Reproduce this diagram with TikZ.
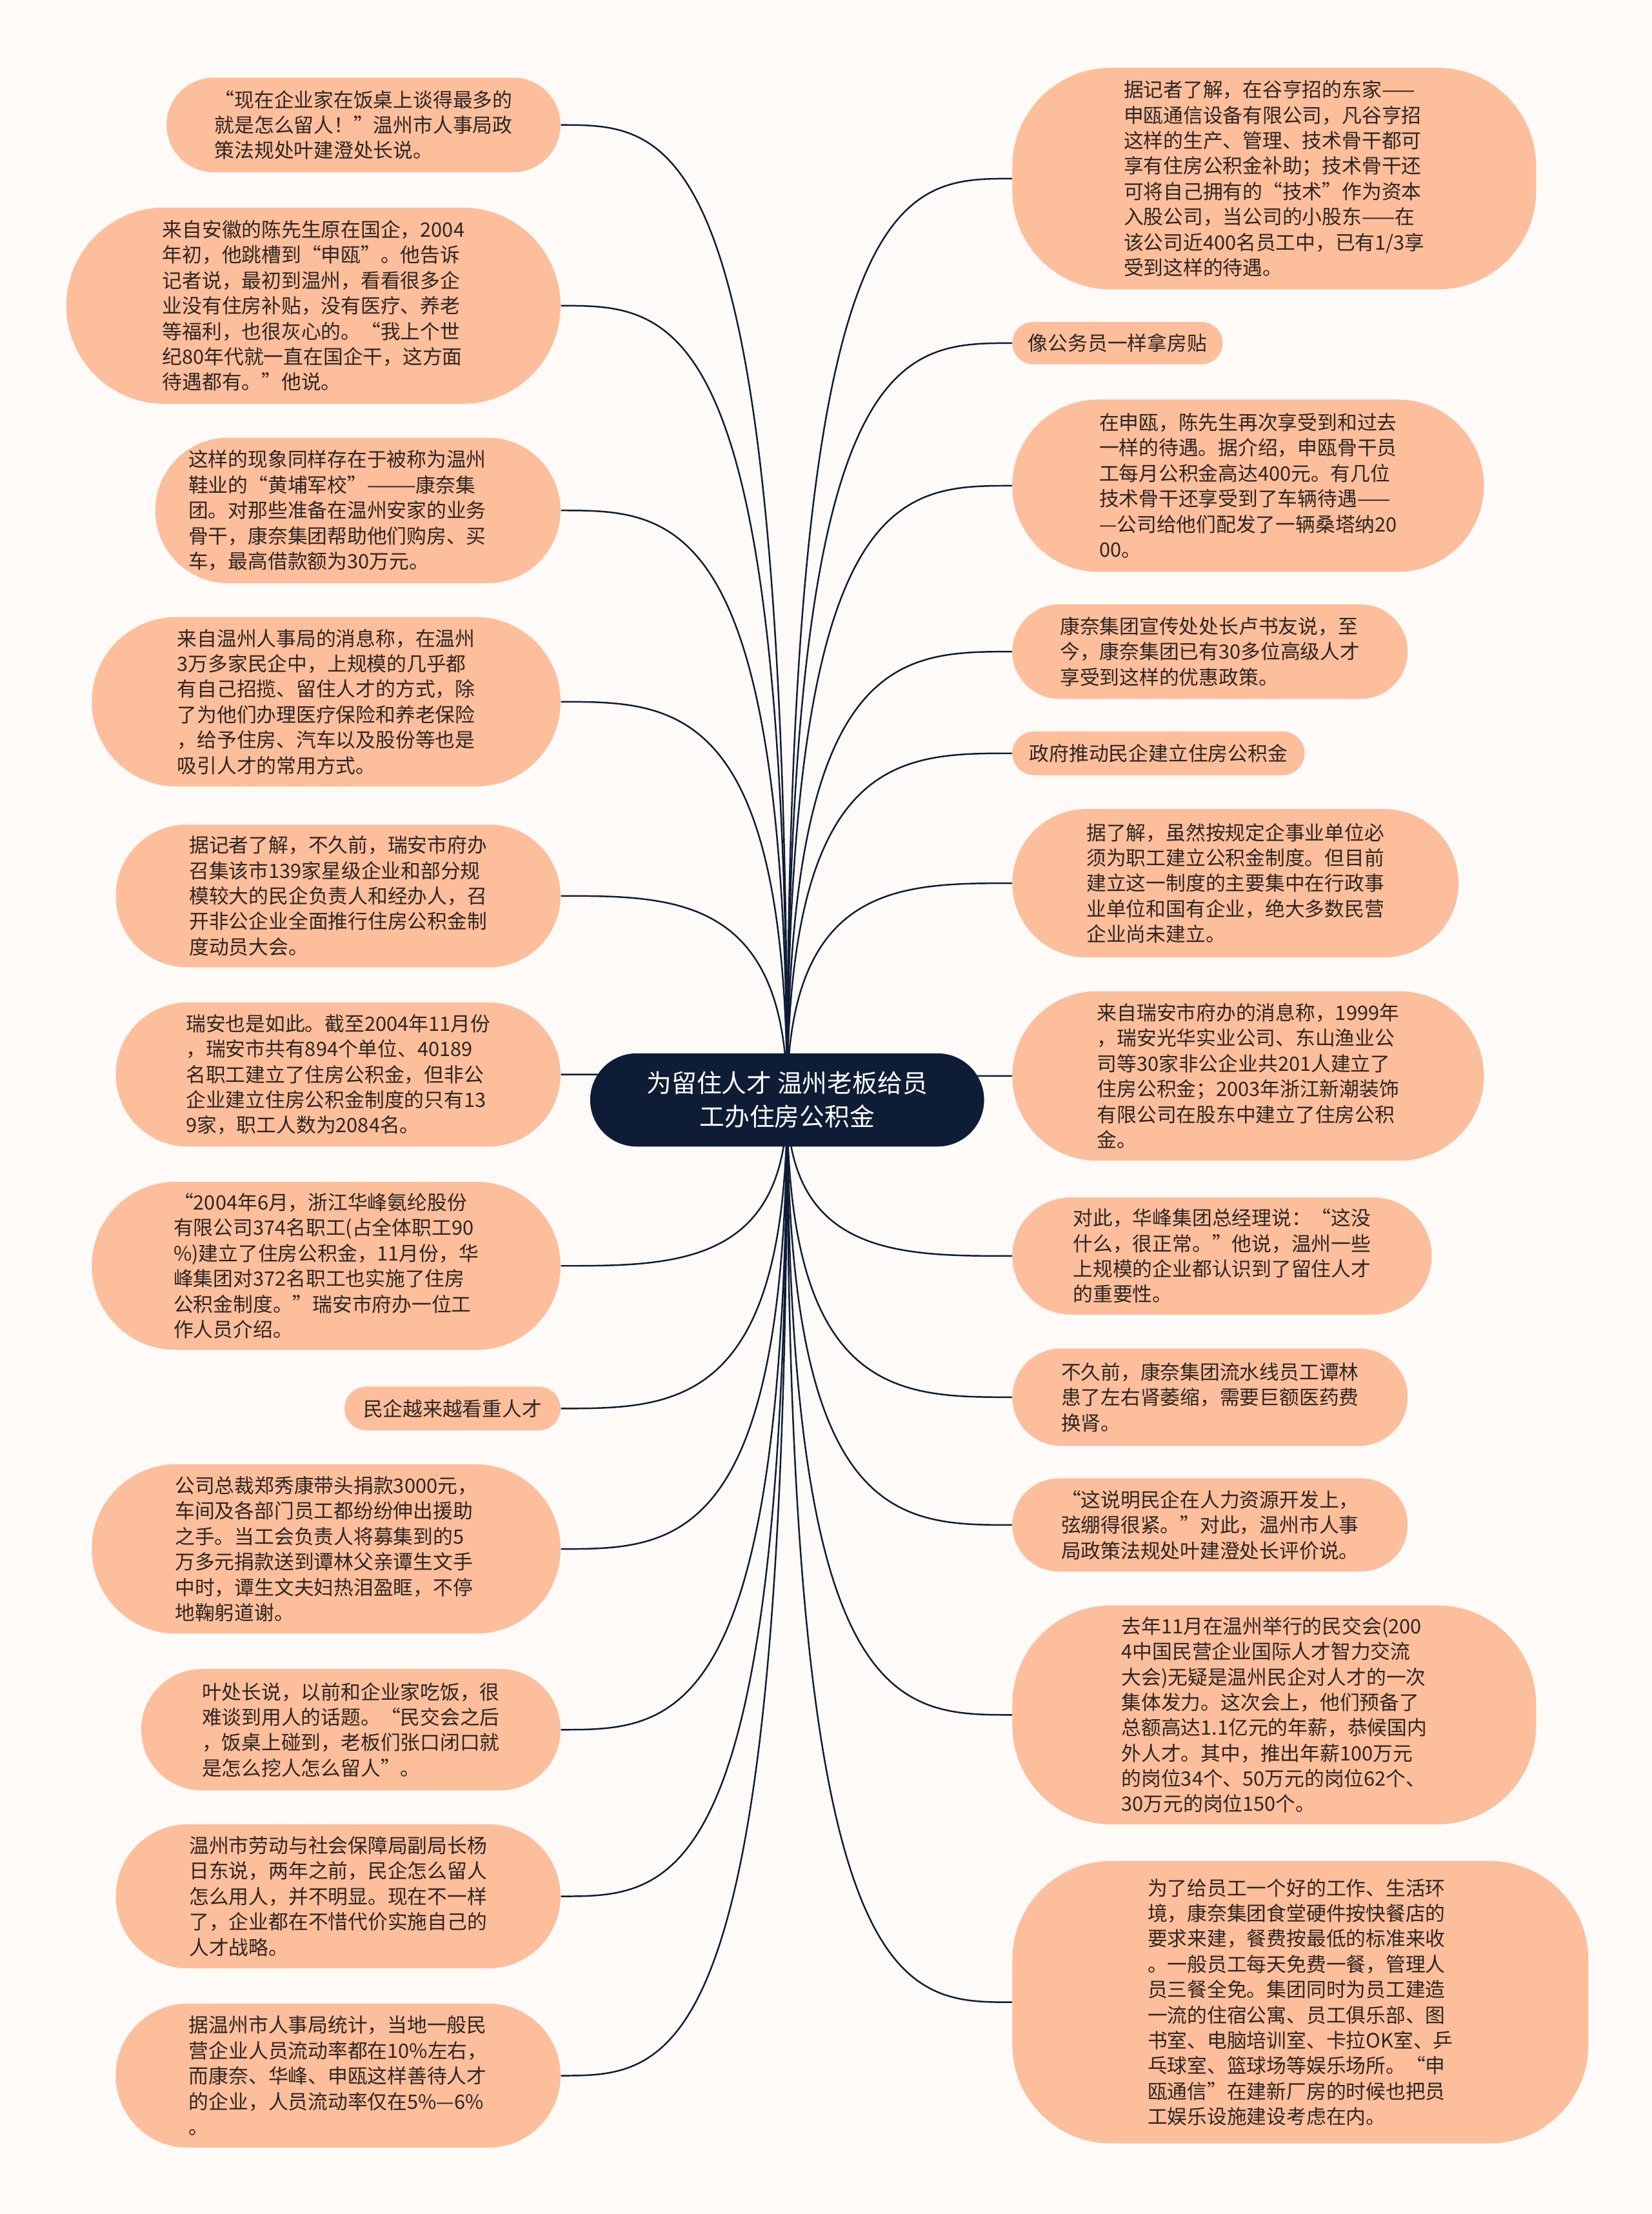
\documentclass[tikz,border=0pt]{standalone}
\usepackage{fontspec}
\setmainfont{Noto Sans CJK SC}
\usetikzlibrary{calc,backgrounds}
\definecolor{paper}{HTML}{FDFAF8}
\definecolor{peach}{HTML}{FDBE9C}
\definecolor{navy}{HTML}{0E1C36}
\definecolor{ink}{HTML}{2E2622}
\newcommand{\unitpx}{0.25mm}
\tikzset{
  boxsize/.style 2 args={minimum width=#1*\unitpx,minimum height=#2*\unitpx,rounded corners={min(#2/2,70)*\unitpx}},
  leaf/.style={fill=peach,text=ink,align=left,inner sep=0pt,font=\fontsize{10pt}{12.8pt}\selectfont},
  root/.style={fill=navy,text=white,align=center,inner sep=0pt,font=\fontsize{12.6pt}{17pt}\selectfont,boxsize={279}{66}},
  link/.style={draw=navy,line width=0.8pt},
}

\begin{document}
\begin{tikzpicture}[x=0.25mm,y=-0.25mm]
\useasboundingbox (0,0) rectangle (1170,1568);
% centre
\node[root] (hub) at (557.5,779) {为留住人才 温州老板给员\\工办住房公积金};
% left branch
\node[leaf,boxsize={279}{67}] (l1) at (257.5,88.5) {“现在企业家在饭桌上谈得最多的\\
就是怎么留人！”温州市人事局政\\
策法规处叶建澄处长说。};
\node[leaf,boxsize={350}{139}] (l2) at (222,216.5) {来自安徽的陈先生原在国企，2004\\
年初，他跳槽到“申瓯”。他告诉\\
记者说，最初到温州，看看很多企\\
业没有住房补贴，没有医疗、养老\\
等福利，也很灰心的。“我上个世\\
纪80年代就一直在国企干，这方面\\
待遇都有。”他说。};
\node[leaf,boxsize={287}{103},text width=240*\unitpx] (l3) at (253.5,361.5) {这样的现象同样存在于被称为温州\\
鞋业的“黄埔军校”———康奈集\\
团。对那些准备在温州安家的业务\\
骨干，康奈集团帮助他们购房、买\\
车，最高借款额为30万元。};
\node[leaf,boxsize={332}{120}] (l4) at (231,497) {来自温州人事局的消息称，在温州\\
3万多家民企中，上规模的几乎都\\
有自己招揽、留住人才的方式，除\\
了为他们办理医疗保险和养老保险\\
，给予住房、汽车以及股份等也是\\
吸引人才的常用方式。};
\node[leaf,boxsize={315}{101}] (l5) at (239.5,634.5) {据记者了解，不久前，瑞安市府办\\
召集该市139家星级企业和部分规\\
模较大的民企负责人和经办人，召\\
开非公企业全面推行住房公积金制\\
度动员大会。};
\node[leaf,boxsize={315}{102}] (l6) at (239.5,761) {瑞安也是如此。截至2004年11月份\\
，瑞安市共有894个单位、40189\\
名职工建立了住房公积金，但非公\\
企业建立住房公积金制度的只有13\\
9家，职工人数为2084名。};
\node[leaf,boxsize={332}{119}] (l7) at (231,896.5) {“2004年6月，浙江华峰氨纶股份\\
有限公司374名职工(占全体职工90\\
\%)建立了住房公积金，11月份，华\\
峰集团对372名职工也实施了住房\\
公积金制度。”瑞安市府办一位工\\
作人员介绍。};
\node[leaf,boxsize={153}{31}] (l8) at (320.5,997.5) {民企越来越看重人才};
\node[leaf,boxsize={332}{120}] (l9) at (231,1097) {公司总裁郑秀康带头捐款3000元，\\
车间及各部门员工都纷纷伸出援助\\
之手。当工会负责人将募集到的5\\
万多元捐款送到谭林父亲谭生文手\\
中时，谭生文夫妇热泪盈眶，不停\\
地鞠躬道谢。};
\node[leaf,boxsize={297}{86}] (l10) at (248.5,1225) {叶处长说，以前和企业家吃饭，很\\
难谈到用人的话题。“民交会之后\\
，饭桌上碰到，老板们张口闭口就\\
是怎么挖人怎么留人”。};
\node[leaf,boxsize={315}{102}] (l11) at (239.5,1343) {温州市劳动与社会保障局副局长杨\\
日东说，两年之前，民企怎么留人\\
怎么用人，并不明显。现在不一样\\
了，企业都在不惜代价实施自己的\\
人才战略。};
\node[leaf,boxsize={315}{102}] (l12) at (239.5,1470) {据温州市人事局统计，当地一般民\\
营企业人员流动率都在10\%左右，\\
而康奈、华峰、申瓯这样善待人才\\
的企业，人员流动率仅在5\%—6\%\\
。};
% right branch
\node[leaf,boxsize={371}{157}] (r1) at (902.5,126.5) {据记者了解，在谷亨招的东家——\\
申瓯通信设备有限公司，凡谷亨招\\
这样的生产、管理、技术骨干都可\\
享有住房公积金补助；技术骨干还\\
可将自己拥有的“技术”作为资本\\
入股公司，当公司的小股东——在\\
该公司近400名员工中，已有1/3享\\
受到这样的待遇。};
\node[leaf,boxsize={149}{30}] (r2) at (791.5,243) {像公务员一样拿房贴};
\node[leaf,boxsize={334}{122}] (r3) at (884,344) {在申瓯，陈先生再次享受到和过去\\
一样的待遇。据介绍，申瓯骨干员\\
工每月公积金高达400元。有几位\\
技术骨干还享受到了车辆待遇——\\
—公司给他们配发了一辆桑塔纳20\\
00。};
\node[leaf,boxsize={280}{67}] (r4) at (857,461.5) {康奈集团宣传处处长卢书友说，至\\
今，康奈集团已有30多位高级人才\\
享受到这样的优惠政策。};
\node[leaf,boxsize={207}{31}] (r5) at (820.5,533.5) {政府推动民企建立住房公积金};
\node[leaf,boxsize={316}{105}] (r6) at (875,625.5) {据了解，虽然按规定企事业单位必\\
须为职工建立公积金制度。但目前\\
建立这一制度的主要集中在行政事\\
业单位和国有企业，绝大多数民营\\
企业尚未建立。};
\node[leaf,boxsize={334}{120}] (r7) at (884,762) {来自瑞安市府办的消息称，1999年\\
，瑞安光华实业公司、东山渔业公\\
司等30家非公企业共201人建立了\\
住房公积金；2003年浙江新潮装饰\\
有限公司在股东中建立了住房公积\\
金。};
\node[leaf,boxsize={297}{83}] (r8) at (865.5,889.5) {对此，华峰集团总经理说：“这没\\
什么，很正常。”他说，温州一些\\
上规模的企业都认识到了留住人才\\
的重要性。};
\node[leaf,boxsize={280}{69}] (r9) at (857,989.5) {不久前，康奈集团流水线员工谭林\\
患了左右肾萎缩，需要巨额医药费\\
换肾。};
\node[leaf,boxsize={280}{66}] (r10) at (857,1080) {“这说明民企在人力资源开发上，\\
弦绷得很紧。”对此，温州市人事\\
局政策法规处叶建澄处长评价说。};
\node[leaf,boxsize={371}{155}] (r11) at (902.5,1214.5) {去年11月在温州举行的民交会(200\\
4中国民营企业国际人才智力交流\\
大会)无疑是温州民企对人才的一次\\
集体发力。这次会上，他们预备了\\
总额高达1.1亿元的年薪，恭候国内\\
外人才。其中，推出年薪100万元\\
的岗位34个、50万元的岗位62个、\\
30万元的岗位150个。};
\node[leaf,boxsize={408}{200}] (r12) at (921,1418) {为了给员工一个好的工作、生活环\\
境，康奈集团食堂硬件按快餐店的\\
要求来建，餐费按最低的标准来收\\
。一般员工每天免费一餐，管理人\\
员三餐全免。集团同时为员工建造\\
一流的住宿公寓、员工俱乐部、图\\
书室、电脑培训室、卡拉OK室、乒\\
乓球室、篮球场等娱乐场所。“申\\
瓯通信”在建新厂房的时候也把员\\
工娱乐设施建设考虑在内。};
% links under the boxes
\begin{scope}[on background layer]
\fill[paper] (0,0) rectangle (1170,1568);
\foreach \i in {1,...,12}{
  \draw[link] (hub.center) .. controls (hub.center |- l\i.east) and ($(hub.center |- l\i.east)!.5!(l\i.east)$) .. (l\i.east);
  \draw[link] (hub.center) .. controls (hub.center |- r\i.west) and ($(hub.center |- r\i.west)!.5!(r\i.west)$) .. (r\i.west);
}
\end{scope}
\end{tikzpicture}
\end{document}
